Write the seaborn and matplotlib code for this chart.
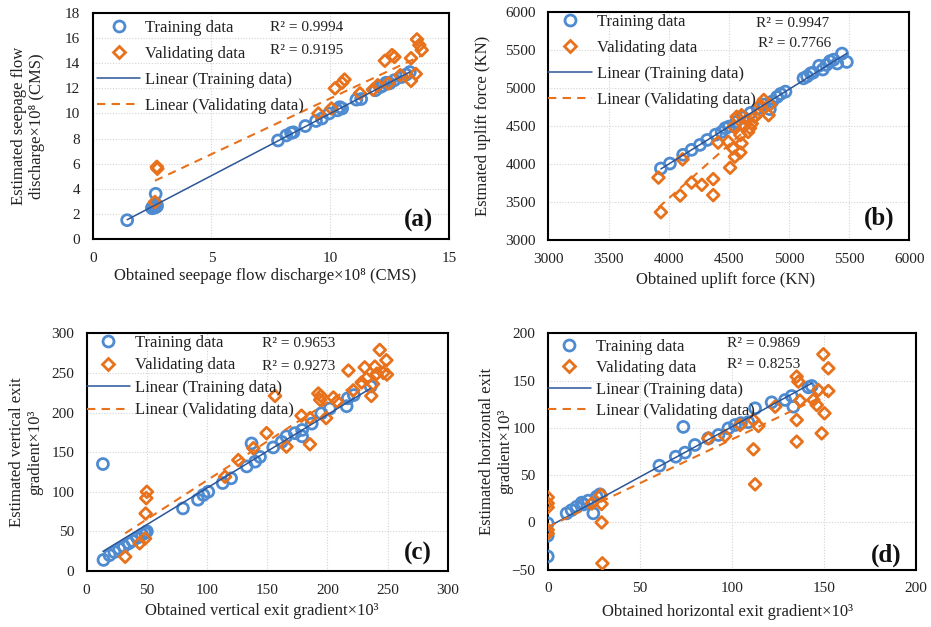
import numpy as np
import pandas as pd
import matplotlib
matplotlib.use("Agg")
import matplotlib.pyplot as plt
import seaborn as sns
from matplotlib.lines import Line2D

# ---------------- data ----------------
# (a) seepage flow discharge x10^8 (CMS)
a_train_x = [1.45, 2.5, 2.5, 2.55, 2.6, 2.6, 2.65, 2.7, 2.7, 2.65, 7.8, 8.15, 8.35, 8.45, 8.95, 9.4, 9.65,
             9.95, 10.3, 10.4, 10.5, 11.1, 11.3, 11.9, 12.1, 12.2, 12.35, 12.5, 12.7, 13.0, 13.2, 13.35]
a_train_y = [1.5, 2.5, 2.45, 2.55, 2.6, 2.5, 2.55, 2.7, 2.6, 3.6, 7.85, 8.25, 8.45, 8.5, 9.0, 9.4, 9.6,
             10.0, 10.25, 10.5, 10.4, 11.1, 11.15, 11.85, 12.1, 12.2, 12.45, 12.4, 12.65, 12.9, 13.1, 13.3]
a_val_x = [2.7, 2.72, 2.62, 9.5, 10.05, 10.2, 10.5, 10.6, 11.25, 11.8, 12.0, 12.3, 12.45, 12.6, 12.7,
           12.95, 13.4, 13.4, 13.6, 13.65, 13.75, 13.85]
a_val_y = [5.75, 5.6, 2.95, 10.0, 10.4, 12.0, 12.45, 12.7, 11.6, 11.9, 12.25, 14.2, 12.4, 14.65, 14.5,
           13.05, 14.4, 12.6, 13.15, 15.9, 15.45, 15.05]
a_r2 = ["R\u00b2 = 0.9994", "R\u00b2 = 0.9195"]

# (b) uplift force (KN)
b_train_x = [3935, 4010, 4120, 4190, 4260, 4320, 4390, 4440, 4470, 4500, 4560, 4620, 4680, 4740, 4790,
             4840, 4860, 4900, 4930, 4970, 5120, 5150, 5180, 5200, 5250, 5280, 5310, 5340, 5370, 5400,
             5440, 5480]
b_train_y = [3940, 4005, 4120, 4185, 4250, 4315, 4385, 4420, 4470, 4490, 4550, 4610, 4670, 4730, 4780,
             4720, 4820, 4880, 4920, 4950, 5125, 5150, 5190, 5200, 5290, 5240, 5300, 5350, 5370, 5320,
             5450, 5340]
b_val_x = [3915, 3935, 4095, 4115, 4190, 4275, 4370, 4370, 4410, 4495, 4510, 4535, 4550, 4595, 4605,
           4540, 4565, 4605, 4650, 4675, 4690, 4660, 4715, 4745, 4760, 4790, 4830, 4840, 4595, 4630]
b_val_y = [3820, 3365, 3585, 4060, 3755, 3725, 3800, 3590, 4280, 4290, 3950, 4205, 4095, 4150, 4270,
           4490, 4620, 4640, 4575, 4470, 4530, 4420, 4620, 4665, 4775, 4840, 4640, 4775, 4380, 4500]
b_r2 = ["R\u00b2 = 0.9947", "R\u00b2 = 0.7766"]

# (c) vertical exit gradient x10^3
c_train_x = [13.5, 14, 19, 23, 27, 31, 35, 38, 42, 46, 48.5, 50, 80, 92.5, 97, 101, 113, 120, 133, 137,
             140, 144, 155, 162, 166, 173, 179, 179, 187, 195, 202, 216, 217, 222, 236]
c_train_y = [135, 14, 20, 24, 28, 31, 35, 38, 42, 46, 48, 50, 79, 90, 96, 100, 111, 117, 132, 161,
             138, 144, 156, 163, 170, 174, 170, 178, 186, 199, 205, 208, 218, 222, 233]
c_val_x = [32, 44, 48.5, 49, 49.5, 50, 115, 126, 138.5, 149.5, 156.5, 166, 178.5, 185.5, 185.5, 192.5,
           194, 194.5, 199, 205, 208, 217.5, 221.5, 228.5, 231, 232.5, 236.5, 238, 239.5, 243.5, 241,
           246.5, 249, 249.5]
c_val_y = [18, 35, 41, 72.5, 92, 100, 119, 140, 155, 174, 221, 157, 196, 160, 193, 224, 216, 221, 193,
           219, 214, 253, 228, 238, 257, 243, 221, 236, 258, 279, 249, 250, 266, 248]
c_r2 = ["R\u00b2 = 0.9653", "R\u00b2 = 0.9273"]

# (d) horizontal exit gradient x10^3
d_train_x = [0, 0, 0, 10.3, 13, 15.8, 18.5, 19.5, 22, 24.8, 26.6, 28.4, 60.7, 69.6, 73.7, 74.6, 80,
             87.3, 92.8, 98.2, 101.8, 105, 109, 112.7, 121.7, 129, 132.6, 133.5, 141.7, 143.5]
d_train_y = [-1, -14, -36, 9.6, 13, 16.6, 20.9, 19, 23, 9.6, 27.2, 29.7, 60, 69.5, 101, 73.8, 81.9,
             88.9, 92.5, 99.5, 103, 105, 106, 120.7, 127, 129.5, 133.7, 122.4, 142.9, 144.3]
d_val_x = [0, 0, 0, 0, 0, 24, 29, 29.3, 29.3, 29.7, 87.3, 96.4, 104.5, 111.8, 112.7, 111.8, 114.5,
           123.6, 135.3, 136.2, 135.3, 135.3, 137.1, 144.4, 147.1, 146.2, 148.9, 149.8, 150.4, 152.5, 152.5]
d_val_y = [26.5, 20.2, 15.9, -8, -11.6, 20, 29, 19.5, 0, -43.3, 88.9, 91.4, 103, 77.3, 40.3, 108.3,
           102, 122.4, 154.2, 148.9, 108.3, 85.4, 128.8, 129.5, 140, 124.2, 94.2, 177.8, 115.4, 163, 139]
d_r2 = ["R\u00b2 = 0.9869", "R\u00b2 = 0.8253"]

legend_labels = ["Training data", "Validating data", "Linear (Training data)", "Linear (Validating data)"]

# ---------------- style ----------------
sns.set_theme(style="white")
plt.rcParams["font.family"] = ["Liberation Serif", "DejaVu Serif"]

BLUE = "#4f8bd0"
DBLUE = "#2b5597"
ORANGE = "#e8711c"

fig = plt.figure(figsize=(9.31, 6.27), dpi=100)


def panel(rect, tx, ty, vx, vy, r2, xlim, xstep, ylim, ystep, xlabel, ylabel, tag,
          xl_pos, yl_pos, r2_pos, tag_pos, leg_pos, labelspacing):
    ax = fig.add_axes(rect)
    ax.set_axisbelow(True)
    ax.grid(True, color="#d4d4d4", linestyle=(0, (1, 1.5)), linewidth=0.8)
    sns.scatterplot(x=tx, y=ty, ax=ax, marker="o", s=62, facecolor="none",
                    edgecolor=BLUE, linewidth=2.0, zorder=3)
    sns.scatterplot(x=vx, y=vy, ax=ax, marker="D", s=36, facecolor="none",
                    edgecolor=ORANGE, linewidth=2.0, zorder=3)
    sns.regplot(x=np.array(tx, float), y=np.array(ty, float), ax=ax, scatter=False, ci=None,
                truncate=True, line_kws=dict(color=DBLUE, lw=1.1, zorder=5))
    sns.regplot(x=np.array(vx, float), y=np.array(vy, float), ax=ax, scatter=False, ci=None,
                truncate=True, line_kws=dict(color=ORANGE, lw=1.5, ls=(0, (4, 3)), zorder=5))
    ax.set_xlim(*xlim)
    ax.set_ylim(*ylim)
    ax.set_xticks(np.arange(xlim[0], xlim[1] + xstep / 2, xstep))
    ax.set_yticks(np.arange(ylim[0], ylim[1] + ystep / 2, ystep))
    ax.tick_params(length=0, pad=9, labelsize=11, colors="#222222")
    for s in ax.spines.values():
        s.set_visible(True)
        s.set_color("black")
        s.set_linewidth(1.5)
    ax.set_xlabel(xlabel, fontsize=12, color="#222222")
    ax.set_ylabel(ylabel, fontsize=12, color="#222222", linespacing=1.15)
    ax.xaxis.set_label_coords(*xl_pos)
    ax.yaxis.set_label_coords(*yl_pos)
    handles = [
        Line2D([], [], marker="o", ls="none", mfc="none", mec=BLUE, mew=2.0, ms=7.9),
        Line2D([], [], marker="D", ls="none", mfc="none", mec=ORANGE, mew=2.0, ms=6.0),
        Line2D([], [], color=DBLUE, lw=1.1),
        Line2D([], [], color=ORANGE, lw=1.5, ls=(0, (4, 3))),
    ]
    leg = ax.legend(handles, legend_labels, loc="upper left", bbox_to_anchor=leg_pos,
                    frameon=False, fontsize=12, handlelength=2.6, handletextpad=0.3,
                    labelspacing=labelspacing, borderpad=0, borderaxespad=0)
    for t in leg.get_texts():
        t.set_color("#222222")
    ax.text(r2_pos[0], r2_pos[1], r2[0], transform=ax.transAxes, fontsize=11,
            ha="left", va="center", color="#222222")
    ax.text(r2_pos[2], r2_pos[3], r2[1], transform=ax.transAxes, fontsize=11,
            ha="left", va="center", color="#222222")
    ax.text(tag_pos[0], tag_pos[1], tag, transform=ax.transAxes, fontsize=18,
            fontweight="bold", ha="right", va="center", color="#111111")
    return ax


panel([0.0996, 0.6188, 0.3827, 0.3604], a_train_x, a_train_y, a_val_x, a_val_y, a_r2,
      (0, 15), 5, (0, 18), 2,
      "Obtained seepage flow discharge\u00d710\u2078 (CMS)",
      "Estimated seepage flow\ndischarge\u00d710\u2078 (CMS)", "(a)",
      (0.484, -0.128), (-0.134, 0.5), (0.498, 0.935, 0.498, 0.836), (0.956, 0.084),
      (0.012, 0.968), 0.6)

panel([0.589, 0.6172, 0.3878, 0.3641], b_train_x, b_train_y, b_val_x, b_val_y, b_r2,
      (3000, 6000), 500, (3000, 6000), 500,
      "Obtained uplift force (KN)", "Estmated uplift force (KN)", "(b)",
      (0.49, -0.140), (-0.159, 0.5), (0.575, 0.949, 0.580, 0.863), (0.960, 0.095),
      (0.0, 0.991), 0.6)

panel([0.0931, 0.0893, 0.3878, 0.3791], c_train_x, c_train_y, c_val_x, c_val_y, c_r2,
      (0, 300), 50, (0, 300), 50,
      "Obtained vertical exit gradient\u00d710\u00b3",
      "Estimated vertical exit\ngradient\u00d710\u00b3", "(c)",
      (0.486, -0.135), (-0.121, 0.5), (0.485, 0.958, 0.485, 0.862), (0.956, 0.074),
      (0.0, 0.993), 0.39)

panel([0.5883, 0.0914, 0.3953, 0.377], d_train_x, d_train_y, d_val_x, d_val_y, d_r2,
      (0, 200), 50, (-50, 200), 50,
      "Obtained horizontal exit gradient\u00d710\u00b3",
      "Estimated horizontal exit\ngradient\u00d710\u00b3", "(d)",
      (0.49, -0.145), (-0.094, 0.5), (0.486, 0.958, 0.486, 0.866), (0.960, 0.062),
      (0.0, 0.978), 0.33)

fig.savefig("out.png", dpi=100)
